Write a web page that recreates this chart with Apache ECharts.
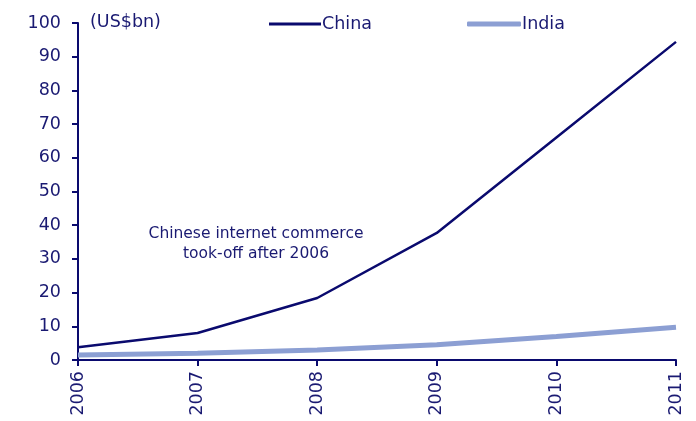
<!DOCTYPE html>
<html>
<head>
<meta charset="utf-8">
<script src="https://cdn.jsdelivr.net/npm/echarts@6/dist/echarts.min.js"></script>
<style>
  html, body { margin: 0; padding: 0; background: #fff; }
  #chart { width: 696px; height: 421px; }
</style>
</head>
<body>
<div id="chart"></div>
<script>
// Internet commerce value, US$bn
const years = ['2006', '2007', '2008', '2009', '2010', '2011'];
const china = [3.8, 8.0, 18.4, 37.7, 66.0, 94.4];
const india = [1.5, 2.0, 3.0, 4.5, 7.0, 9.7];

const navy = '#0a0a6e';
const textColor = '#1a1a72';
const light = '#8c9fd3';
const font = 'DejaVu Sans';
const fs = 17.5;

const chart = echarts.init(document.getElementById('chart'));
chart.setOption({
  animation: false,
  textStyle: { fontFamily: font, color: textColor },
  grid: { left: 78, right: 20, top: 23, bottom: 61, containLabel: false },
  title: {
    text: '(US$bn)', left: 85, top: 8,
    textStyle: { fontFamily: font, fontSize: fs, fontWeight: 'normal', color: textColor }
  },
  legend: [
    {
      data: [{ name: 'China', icon: 'rect' }],
      left: 264, top: 10, itemWidth: 52, itemHeight: 3, itemGap: 5,
      textStyle: { fontFamily: font, fontSize: fs, color: textColor, padding: [0, 0, 0, -4] }
    },
    {
      data: [{ name: 'India', icon: 'roundRect' }],
      left: 462, top: 10, itemWidth: 54, itemHeight: 5, itemGap: 5,
      textStyle: { fontFamily: font, fontSize: fs, color: textColor, padding: [0, 0, 0, -4] }
    }
  ],
  xAxis: {
    type: 'category', data: years, boundaryGap: false,
    axisLine: { lineStyle: { color: navy, width: 2 } },
    axisTick: { show: true, length: 6, inside: false, lineStyle: { color: navy, width: 2 }, alignWithLabel: true },
    axisLabel: { rotate: 90, fontSize: fs, color: textColor, fontFamily: font, margin: 11 },
    splitLine: { show: false }
  },
  yAxis: {
    type: 'value', min: 0, max: 100, interval: 10,
    axisLine: { show: true, lineStyle: { color: navy, width: 2 } },
    axisTick: { show: true, length: 6, lineStyle: { color: navy, width: 2 } },
    axisLabel: { fontSize: fs, color: textColor, fontFamily: font, margin: 17 },
    splitLine: { show: false }
  },
  graphic: [{
    type: 'text', x: 256, y: 224,
    style: {
      text: 'Chinese internet commerce\ntook-off after 2006',
      fontFamily: font, fontSize: 15.5, fill: textColor, align: 'center', lineHeight: 20
    }
  }],
  series: [
    {
      name: 'India', type: 'line', data: india, symbol: 'none', z: 2,
      lineStyle: { color: light, width: 5 }, itemStyle: { color: light }
    },
    {
      name: 'China', type: 'line', data: china, symbol: 'none', z: 3,
      lineStyle: { color: navy, width: 2.5 }, itemStyle: { color: navy }
    }
  ]
});
</script>
</body>
</html>
